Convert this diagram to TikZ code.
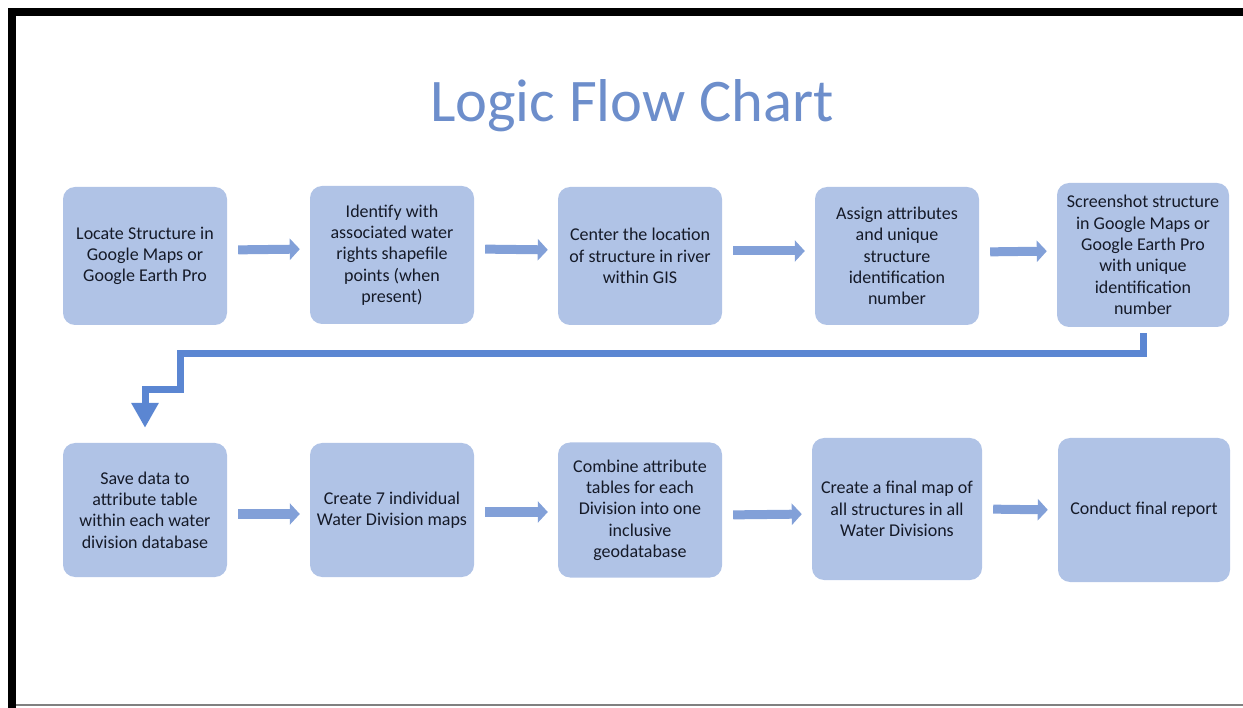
\documentclass[tikz,border=0pt]{standalone}
\usepackage{fontspec}
\setmainfont{Carlito}
\usepackage{xcolor}
\usetikzlibrary{positioning, calc, arrows.meta}

\definecolor{boxblue}{HTML}{B0C3E6}
\definecolor{arrowblue}{HTML}{82A0D8}
\definecolor{linkblue}{HTML}{5B86D2}
\definecolor{titleblue}{HTML}{6D8ECB}
\definecolor{inktext}{HTML}{151A28}

\begin{document}
\begin{tikzpicture}[x=1pt, y=-1pt,
    box/.style={fill=boxblue, rounded corners=12pt, minimum width=164pt, minimum height=138pt,
      align=center, text=inktext, inner sep=2pt, font=\fontsize{18}{21.3}\selectfont},
    flow/.style={draw=arrowblue, line width=9pt, -{Triangle[length=10pt,width=21pt]},
      shorten <=11pt, shorten >=10pt},
    link/.style={draw=linkblue, line width=7pt, -{Triangle[length=25pt,width=26pt]}}]
    \useasboundingbox (0,0) rectangle (1243,708);
    % frame
    \fill (8,8) rectangle (1243,16);
    \fill (8,8) rectangle (16,708);
    \draw[gray, line width=1.5pt] (16,705) -- (1243,705);
    % title
    \node[anchor=base, text=titleblue, font=\fontsize{60.5}{72}\selectfont] (title) at (632,122) {Logic Flow Chart};
    % first row
    \node[box] (b1) at (145,256) {Locate Structure in\\Google Maps or\\Google Earth Pro};
    \node[box] (b2) at (392,255) {Identify with\\associated water\\rights shapefile\\points (when\\present)};
    \node[box] (b3) at (640,256) {Center the location\\of structure in river\\within GIS};
    \node[box] (b4) at (897,256) {Assign attributes\\and unique\\structure\\identification\\number};
    \node[box, minimum width=172pt, minimum height=144pt] (b5) at (1143,255) {Screenshot structure\\in Google Maps or\\Google Earth Pro\\with unique\\identification\\number};
    % second row
    \node[box, minimum height=134pt] (b6) at (145,510) {Save data to\\attribute table\\within each water\\division database};
    \node[box, minimum height=134pt] (b7) at (392,510) {Create 7 individual\\Water Division maps};
    \node[box, minimum height=135pt] (b8) at (640,510) {Combine attribute\\tables for each\\Division into one\\inclusive\\geodatabase};
    \node[box, minimum width=170pt, minimum height=142pt] (b9) at (897,509) {Create a final map of\\all structures in all\\Water Divisions};
    \node[box, minimum width=172pt, minimum height=144pt] (b10) at (1144,510) {Conduct final report};
    % arrows
    \draw[flow] ([yshift=6pt]b1.east) -- ([yshift=6pt]b2.west);
    \draw[flow] ([yshift=6pt]b2.east) -- ([yshift=6pt]b3.west);
    \draw[flow] ([yshift=5pt]b3.east) -- ([yshift=5pt]b4.west);
    \draw[flow] ([yshift=4pt]b4.east) -- ([yshift=4pt]b5.west);
    \draw[flow] ([yshift=-4pt]b6.east) -- ([yshift=-4pt]b7.west);
    \draw[flow] ([yshift=-2pt]b7.east) -- ([yshift=-2pt]b8.west);
    \draw[flow] ([yshift=-5pt]b8.east) -- ([yshift=-5pt]b9.west);
    \draw[flow] (b9.east) -- (b10.west);
    % wrap round to the second row
    \coordinate (k1) at (180,354);
    \coordinate (k2) at (145,390);
    \draw[link, shorten <=6pt, shorten >=15pt] (b5.south) |- (k1) |- (k2) -- (b6.north);
\end{tikzpicture}
\end{document}
